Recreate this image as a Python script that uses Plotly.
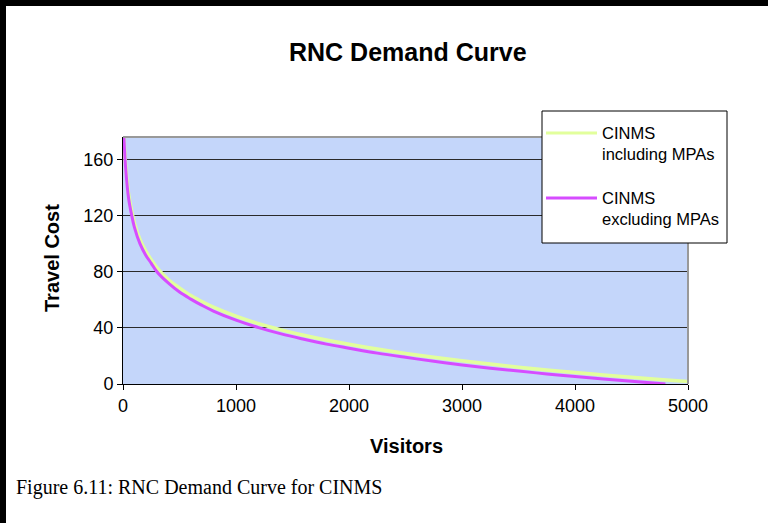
import plotly.graph_objects as go

# Demand curve readings: visitors vs. travel cost
visitors_incl = [8, 25, 50, 75, 100, 150, 200, 250, 300, 400, 500, 600, 700, 800,
                 1000, 1200, 1400, 1600, 1800, 2000, 2250, 2500, 2750, 3000, 3250,
                 3500, 3750, 4000, 4250, 4500, 4750, 5000]
cost_incl = [176, 154, 135, 124, 115, 103, 95, 88.5, 83, 74.5, 68.5, 63, 58.7, 54.8,
             48.4, 43, 38.6, 34.7, 31.3, 28.3, 24.9, 21.8, 19, 16.5, 14.2,
             12, 10, 8.2, 6.4, 4.8, 3.2, 1.7]

visitors_excl = [8, 25, 50, 75, 100, 150, 200, 250, 300, 400, 500, 600, 700, 800,
                 1000, 1200, 1400, 1600, 1800, 2000, 2250, 2500, 2750, 3000, 3250,
                 3500, 3750, 4000, 4250, 4500, 4800]
cost_excl = [176, 152, 132, 121, 112, 100, 92, 86, 80, 72, 65.5, 60.5, 56, 52,
             45.5, 40.2, 35.7, 31.9, 28.4, 25.5, 22, 19, 16.2, 13.6, 11.3,
             9.2, 7.2, 5.3, 3.5, 1.9, 0]

series_names = ["CINMS<br>including MPAs", "CINMS<br>excluding MPAs"]
series_colors = ["#e2ff9c", "#d64cff"]

x_ticks = [0, 1000, 2000, 3000, 4000, 5000]
y_ticks = [0, 40, 80, 120, 160]

W, H = 768, 523
L, R, T, B = 123, 688, 137, 384  # plot area in pixels


def fx(p):
    """pixel column -> paper x"""
    return (p - L) / (R - L)


def fy(p):
    """pixel row -> paper y"""
    return (B - p) / (B - T)


fig = go.Figure()
fig.add_trace(go.Scatter(x=visitors_incl, y=cost_incl, mode="lines",
                         line=dict(color=series_colors[0], width=3.5, shape="spline"),
                         name=series_names[0], showlegend=False))
fig.add_trace(go.Scatter(x=visitors_excl, y=cost_excl, mode="lines",
                         line=dict(color=series_colors[1], width=3, shape="spline"),
                         name=series_names[1], showlegend=False))

shapes = [
    # outer frame edges (top and left)
    dict(type="line", xref="paper", yref="paper", x0=fx(0), x1=fx(W), y0=fy(3), y1=fy(3),
         line=dict(color="black", width=6)),
    dict(type="line", xref="paper", yref="paper", x0=fx(3), x1=fx(3), y0=fy(0), y1=fy(H),
         line=dict(color="black", width=6)),
    # plot-area border on top and right
    dict(type="line", xref="paper", yref="paper", x0=0, x1=1, y0=1, y1=1,
         line=dict(color="#999999", width=2)),
    dict(type="line", xref="paper", yref="paper", x0=1, x1=1, y0=0, y1=1,
         line=dict(color="#999999", width=2)),
]

# legend box
lg_x0, lg_x1, lg_y0, lg_y1 = 542, 727, 111, 243
shapes.append(dict(type="rect", xref="paper", yref="paper",
                   x0=fx(lg_x0), x1=fx(lg_x1), y0=fy(lg_y1), y1=fy(lg_y0),
                   line=dict(color="black", width=1), fillcolor="white", layer="above"))
annotations = []
for i, (nm, col) in enumerate(zip(series_names, series_colors)):
    ly = 133 + i * 65
    shapes.append(dict(type="line", xref="paper", yref="paper",
                       x0=fx(546), x1=fx(597), y0=fy(ly), y1=fy(ly),
                       line=dict(color=col, width=3), layer="above"))
    annotations.append(dict(xref="paper", yref="paper", x=fx(600), y=fy(ly - 11),
                            xanchor="left", yanchor="top",
                            text=nm, showarrow=False, align="left",
                            font=dict(family="Liberation Sans, Arial", size=16.5, color="black")))

annotations += [
    dict(xref="paper", yref="paper", x=fx(408), y=fy(52),
         text="<b>RNC Demand Curve</b>", showarrow=False, xanchor="center", yanchor="middle",
         font=dict(family="Liberation Sans, Arial", size=25, color="black")),
    dict(xref="paper", yref="paper", x=fx(406), y=fy(446),
         text="<b>Visitors</b>", showarrow=False, xanchor="center", yanchor="middle",
         font=dict(family="Liberation Sans, Arial", size=20, color="black")),
    dict(xref="paper", yref="paper", x=fx(52), y=fy(258),
         text="<b>Travel Cost</b>", showarrow=False, textangle=-90,
         xanchor="center", yanchor="middle",
         font=dict(family="Liberation Sans, Arial", size=20, color="black")),
    dict(xref="paper", yref="paper", x=fx(14), y=fy(487),
         text="Figure 6.11: RNC Demand Curve for CINMS", showarrow=False,
         xanchor="left", yanchor="middle",
         font=dict(family="Liberation Serif, Times New Roman", size=20, color="black")),
]

fig.update_layout(
    width=W, height=H,
    margin=dict(l=L, r=W - R, t=T, b=H - B, pad=0),
    paper_bgcolor="white",
    plot_bgcolor="#c4d6fa",
    shapes=shapes,
    annotations=annotations,
    showlegend=False,
    xaxis=dict(range=[0, 5000], tickvals=x_ticks, ticktext=[str(v) for v in x_ticks],
               showgrid=False, zeroline=False, showline=True, linecolor="black", linewidth=1,
               ticks="outside", ticklen=5, tickcolor="black",
               tickfont=dict(family="Liberation Sans, Arial", size=18, color="black")),
    yaxis=dict(range=[0, 176], tickvals=y_ticks, ticktext=[str(v) for v in y_ticks],
               showgrid=True, gridcolor="#2a2a2a", gridwidth=1, zeroline=False,
               showline=True, linecolor="black", linewidth=1,
               ticks="outside", ticklen=5, tickcolor="black",
               tickfont=dict(family="Liberation Sans, Arial", size=18, color="black")),
)

fig.write_html("out.html")
